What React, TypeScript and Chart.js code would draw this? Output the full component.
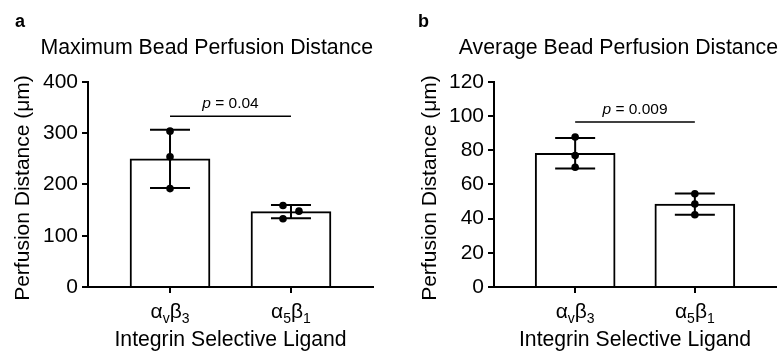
import React, { useEffect, useRef } from 'react';
import { Chart, registerables } from 'chart.js';
Chart.register(...registerables);

// ---------- data ----------
const categoryLabels = [['α', 'v', 'β', '3'], ['α', '5', 'β', '1']]; // odd entries are subscripts
const xAxisTitle = 'Integrin Selective Ligand';
const yAxisTitle = 'Perfusion Distance (μm)';

const maxLetter = 'a';
const maxTitle = 'Maximum Bead Perfusion Distance';
const maxMeans = [250, 147];
const maxSD = [57, 13];
const maxPoints = [[304, 254, 192], [159, 148, 133]];
const maxJitter = [[0, 0, 0], [-0.066, 0.066, -0.066]];
const maxYTicks = [0, 100, 200, 300, 400];
const maxSigY = 333;
const maxPValue = '0.04';

const avgLetter = 'b';
const avgTitle = 'Average Bead Perfusion Distance';
const avgMeans = [78.3, 48.5];
const avgSD = [8.9, 6.2];
const avgPoints = [[87.8, 76.9, 70.1], [54.6, 48.6, 42.3]];
const avgJitter = [[0, 0, 0], [0, 0, 0]];
const avgYTicks = [0, 20, 40, 60, 80, 100, 120];
const avgSigY = 96.6;
const avgPValue = '0.009';

const FONT = "'Liberation Sans', Arial, Helvetica, sans-serif";

type PanelProps = {
  letter: string;
  title: string;
  means: number[];
  sd: number[];
  points: number[][];
  jitter: number[][];
  yTicks: number[];
  sigY: number;
  pValue: string;
  padLeft: number;
  padRight: number;
  axisLeft: number;
  yTitleX: number;
};

function Panel(props: PanelProps) {
  const ref = useRef<HTMLCanvasElement | null>(null);
  useEffect(() => {
    if (!ref.current) return;
    const { means, sd, points, jitter, yTicks, sigY, pValue } = props;

    const annot = {
      id: 'annot',
      afterDatasetsDraw(chart: any) {
        const ctx = chart.ctx;
        const xs = chart.scales.x;
        const ys = chart.scales.y;
        ctx.save();
        ctx.strokeStyle = '#000';
        ctx.lineWidth = 2;
        ctx.lineCap = 'butt';
        means.forEach((m, i) => {
          const cx = xs.getPixelForValue(i);
          const yt = ys.getPixelForValue(m + sd[i]);
          const yb = ys.getPixelForValue(m - sd[i]);
          ctx.beginPath();
          ctx.moveTo(cx, yt);
          ctx.lineTo(cx, yb);
          ctx.moveTo(cx - 20, yt);
          ctx.lineTo(cx + 20, yt);
          ctx.moveTo(cx - 20, yb);
          ctx.lineTo(cx + 20, yb);
          ctx.stroke();
        });
        // significance bar
        const x0 = xs.getPixelForValue(0);
        const x1 = xs.getPixelForValue(1);
        const sy = ys.getPixelForValue(sigY);
        ctx.lineWidth = 1.6;
        ctx.beginPath();
        ctx.moveTo(x0, sy);
        ctx.lineTo(x1, sy);
        ctx.stroke();
        // p text
        ctx.fillStyle = '#000';
        ctx.textBaseline = 'alphabetic';
        const pFont = `italic 15.5px ${FONT}`;
        const rFont = `15.5px ${FONT}`;
        const rest = ' = ' + pValue;
        ctx.font = pFont;
        const wp = ctx.measureText('p').width;
        ctx.font = rFont;
        const wr = ctx.measureText(rest).width;
        const tx = (x0 + x1) / 2 - (wp + wr) / 2;
        ctx.font = pFont;
        ctx.fillText('p', tx, sy - 8);
        ctx.font = rFont;
        ctx.fillText(rest, tx + wp, sy - 8);
        // category labels with subscripts
        const mainFont = `21px ${FONT}`;
        const subFont = `14px ${FONT}`;
        const base = chart.chartArea.bottom + 31;
        categoryLabels.forEach((parts, i) => {
          const cx = xs.getPixelForValue(i);
          const widths = parts.map((t, k) => {
            ctx.font = k % 2 ? subFont : mainFont;
            return ctx.measureText(t).width;
          });
          const total = widths.reduce((a, b) => a + b, 0);
          let x = cx - total / 2;
          parts.forEach((t, k) => {
            ctx.font = k % 2 ? subFont : mainFont;
            ctx.fillText(t, x, k % 2 ? base + 5 : base);
            x += widths[k];
          });
        });
        // y axis title (drawn here so it is not squeezed to the plot height)
        ctx.save();
        ctx.translate(props.yTitleX, (chart.chartArea.top + chart.chartArea.bottom) / 2 + 3.5);
        ctx.rotate(-Math.PI / 2);
        ctx.font = `21px ${FONT}`;
        ctx.textAlign = 'center';
        ctx.textBaseline = 'middle';
        ctx.fillText(yAxisTitle, 0, 0);
        ctx.restore();
        ctx.restore();
      },
    };

    const chart = new Chart(ref.current, {
      type: 'bar',
      data: {
        datasets: [
          {
            type: 'bar',
            data: means.map((v, i) => ({ x: i, y: v })),
            backgroundColor: '#ffffff',
            borderColor: '#000000',
            borderWidth: 2,
            borderSkipped: 'start',
            barThickness: 80,
            order: 2,
          } as any,
          {
            type: 'scatter',
            data: points.flatMap((arr, i) => arr.map((v, j) => ({ x: i + jitter[i][j], y: v }))),
            backgroundColor: '#000000',
            borderWidth: 0,
            pointRadius: 3.8,
            order: 1,
          } as any,
        ],
      },
      options: {
        animation: false,
        responsive: false,
        layout: { padding: { left: props.padLeft, right: props.padRight, top: 11, bottom: 0 } },
        plugins: {
          legend: { display: false },
          tooltip: { enabled: false },
          subtitle: {
            display: true,
            text: props.letter,
            align: 'start',
            position: 'top',
            fullSize: true,
            weight: 3000,
            color: '#000',
            font: { family: FONT, size: 18, weight: 'bold', lineHeight: 1.2 },
            padding: { top: 0, bottom: 0 },
          } as any,
          title: {
            display: true,
            text: props.title,
            align: 'end',
            position: 'top',
            fullSize: true,
            color: '#000',
            font: { family: FONT, size: 21.3, weight: 'normal', lineHeight: 1.2 },
            padding: { top: 2.6, bottom: 21.2 },
          },
        },
        scales: {
          x: {
            type: 'linear',
            min: -0.678,
            max: 1.678,
            offset: false,
            afterBuildTicks: (s: any) => {
              s.ticks = categoryLabels.map((_, i) => ({ value: i }));
            },
            afterFit: (s: any) => {
              s.height = 69;
            },
            ticks: { callback: () => '', font: { family: FONT, size: 20 }, color: '#000' },
            grid: { display: true, offset: false, drawOnChartArea: false, drawTicks: true, tickLength: 6, color: '#000', lineWidth: 2 },
            border: { display: true, color: '#000', width: 2 },
            title: {
              display: true,
              text: xAxisTitle,
              color: '#000',
              font: { family: FONT, size: 21.2, lineHeight: 1.2 },
              padding: { top: 0, bottom: 3.4 },
            },
          },
          y: {
            min: 0,
            max: yTicks[yTicks.length - 1],
            afterBuildTicks: (s: any) => {
              s.ticks = yTicks.map((v) => ({ value: v }));
            },
            afterFit: (s: any) => {
              s.width = props.axisLeft - props.padLeft;
            },
            ticks: { font: { family: FONT, size: 21 }, color: '#000', padding: 4 },
            grid: { display: true, drawOnChartArea: false, drawTicks: true, tickLength: 6, color: '#000', lineWidth: 2 },
            border: { display: true, color: '#000', width: 2 },
            title: { display: false },
          },
        },
      } as any,
      plugins: [annot],
    });
    return () => chart.destroy();
  }, []);
  return <canvas ref={ref} width={390} height={356} style={{ display: 'block', width: 390, height: 356 }} />;
}

export default function App() {
  return (
    <div style={{ position: 'absolute', left: 0, top: 0, width: 780, height: 356, display: 'flex', background: '#fff' }}>
      <Panel
        letter={maxLetter}
        title={maxTitle}
        means={maxMeans}
        sd={maxSD}
        points={maxPoints}
        jitter={maxJitter}
        yTicks={maxYTicks}
        sigY={maxSigY}
        pValue={maxPValue}
        padLeft={15}
        padRight={17}
        axisLeft={88}
        yTitleX={23}
      />
      <Panel
        letter={avgLetter}
        title={avgTitle}
        means={avgMeans}
        sd={avgSD}
        points={avgPoints}
        jitter={avgJitter}
        yTicks={avgYTicks}
        sigY={avgSigY}
        pValue={avgPValue}
        padLeft={28}
        padRight={2}
        axisLeft={104}
        yTitleX={40}
      />
    </div>
  );
}
